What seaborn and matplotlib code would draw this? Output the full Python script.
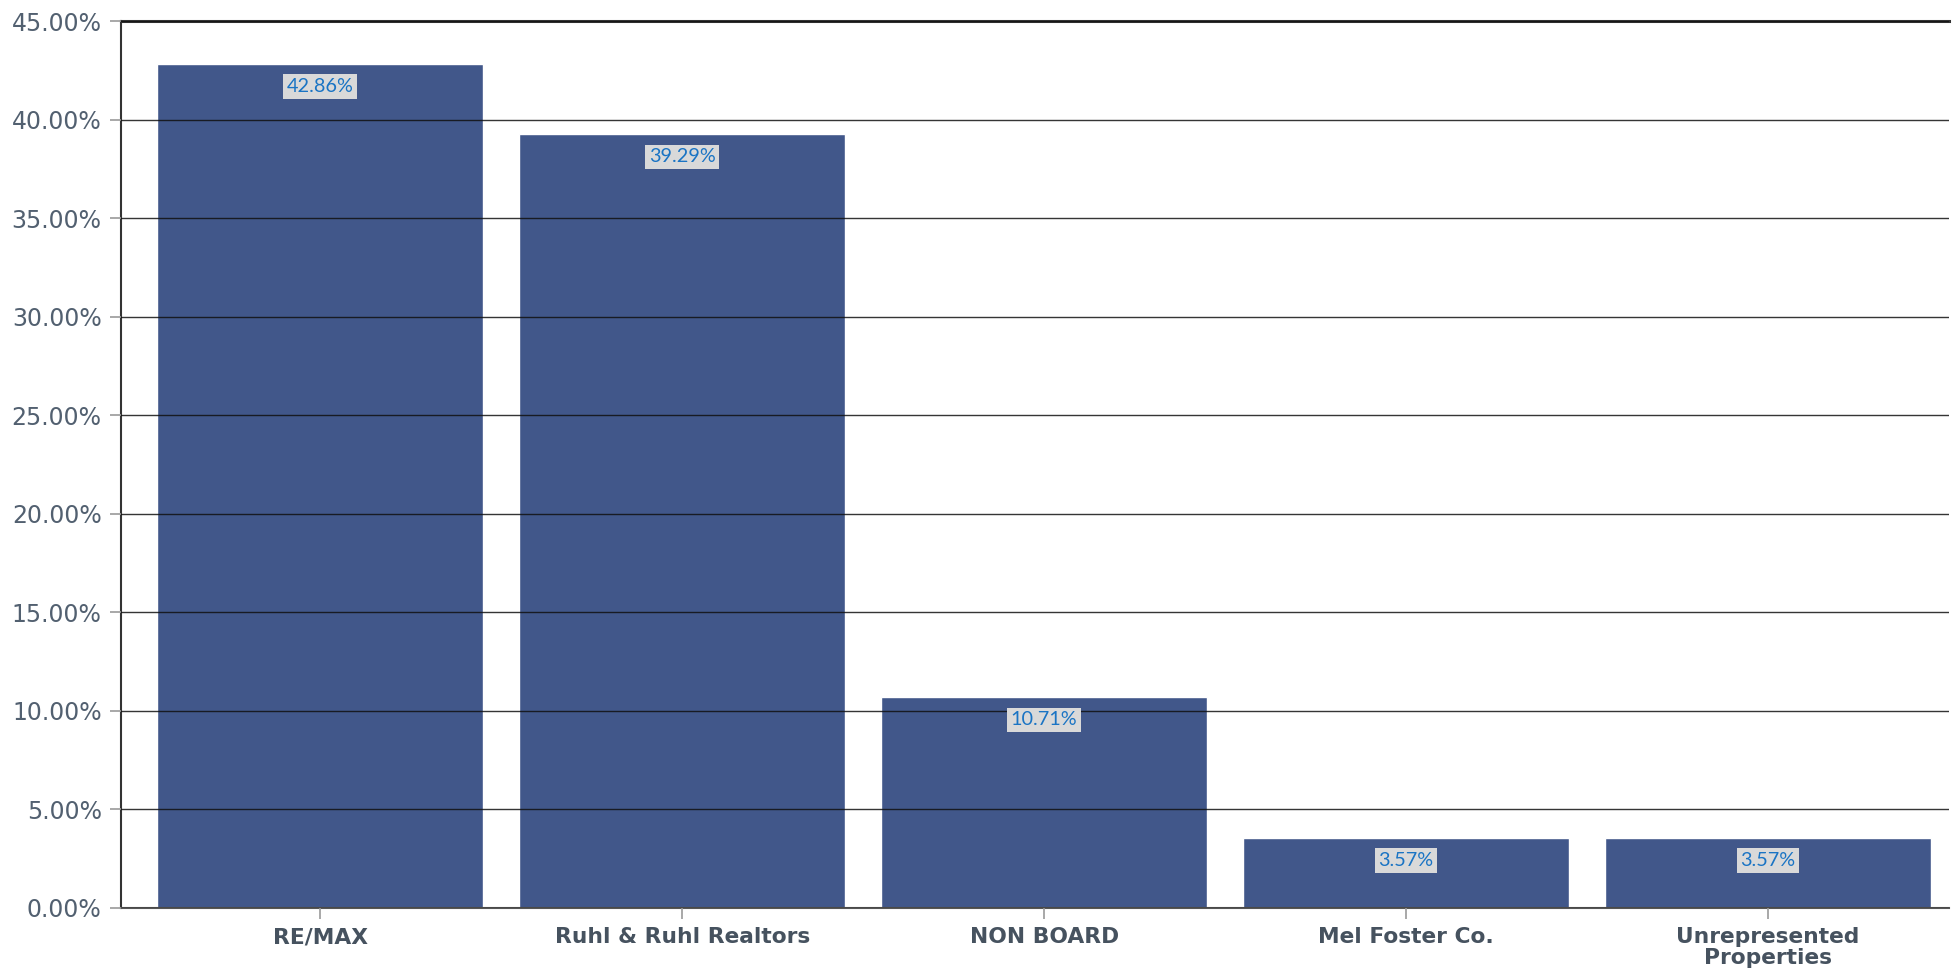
import matplotlib
matplotlib.use("Agg")
import matplotlib.pyplot as plt
import seaborn as sns

# data
brokers = ["RE/MAX", "Ruhl & Ruhl Realtors", "NON BOARD", "Mel Foster Co.",
           "Unrepresented\nProperties"]
shares = [42.86, 39.29, 10.71, 3.57, 3.57]
y_ticks = [0, 5, 10, 15, 20, 25, 30, 35, 40, 45]

sns.set_theme(style="white")
plt.rcParams["font.family"] = ["DejaVu Sans"]

fig = plt.figure(figsize=(19.53, 9.71), dpi=100)
ax = fig.add_axes([0.062, 0.065, 0.936, 0.913])

sns.barplot(x=brokers, y=shares, color="#41578a", saturation=1, width=0.9,
            ax=ax)

ax.set_xlim(-0.55, 4.5)
ax.set_ylim(0, 45)
ax.set_yticks(y_ticks)
ax.set_yticklabels([f"{v:.2f}%" for v in y_ticks])
ax.set_xlabel("")
ax.set_ylabel("")

# gridlines on top of the bars
ax.set_axisbelow(False)
ax.yaxis.grid(True, color="#111111", linewidth=1.0, alpha=0.85)
ax.xaxis.grid(False)

ax.spines["right"].set_visible(False)
ax.spines["top"].set_color("#333333")
ax.spines["top"].set_linewidth(2.2)
ax.spines["left"].set_color("#333333")
ax.spines["left"].set_linewidth(1.5)
ax.spines["bottom"].set_color("#555555")
ax.spines["bottom"].set_linewidth(1.5)

ax.tick_params(axis="y", which="major", left=True, length=8, width=1.2,
               color="#999999", labelsize=17, labelcolor="#526070", pad=6)
ax.tick_params(axis="x", which="major", bottom=True, length=8, width=1.2,
               color="#999999", labelsize=15.7, labelcolor="#46525f", pad=6)
for lbl in ax.get_xticklabels():
    lbl.set_fontweight("bold")
    lbl.set_linespacing(1.02)

# value labels inside the top of each bar
for bar, val in zip(ax.patches, shares):
    ax.annotate(f"{val:.2f}%",
                xy=(bar.get_x() + bar.get_width() / 2, bar.get_height()),
                xytext=(0, -23), textcoords="offset pixels",
                ha="center", va="center", fontsize=14.3, color="#1a74c4",
                family=["Lato", "DejaVu Sans"],
                bbox=dict(boxstyle="square,pad=0.18", facecolor="#d9d9d9",
                          edgecolor="none"))

fig.savefig("out.png", dpi=100)
